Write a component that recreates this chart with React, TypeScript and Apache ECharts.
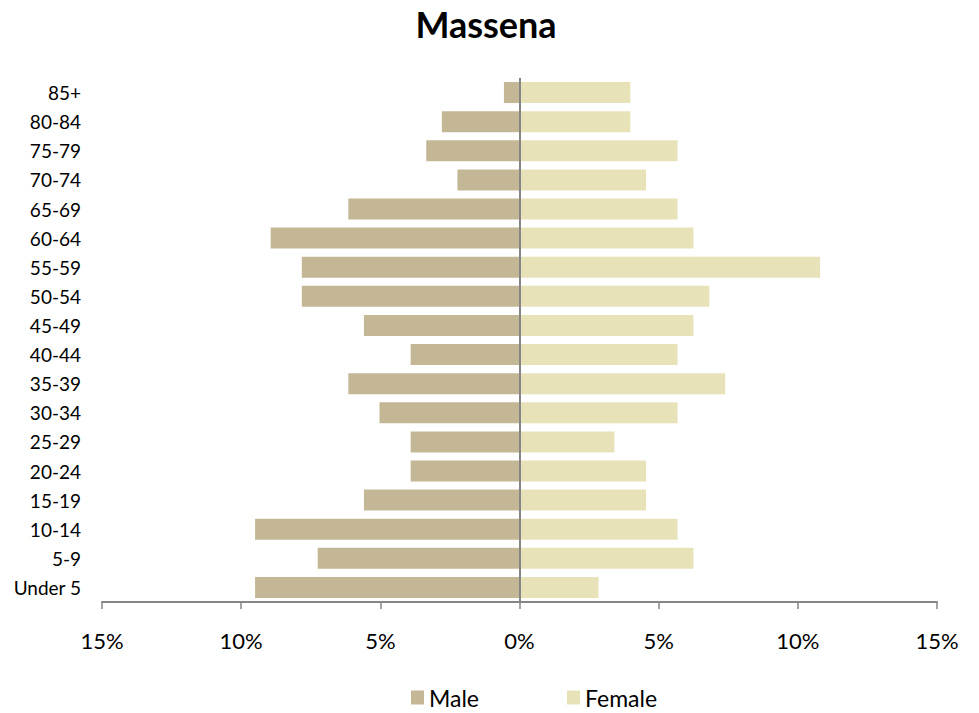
import React, { useEffect, useRef } from "react";
import * as echarts from "echarts";

const categories = [
  "Under 5", "5-9", "10-14", "15-19", "20-24", "25-29", "30-34", "35-39", "40-44",
  "45-49", "50-54", "55-59", "60-64", "65-69", "70-74", "75-79", "80-84", "85+",
];
// percent of population (male shown to the left)
const malePct = [9.5, 7.25, 9.5, 5.59, 3.91, 3.91, 5.03, 6.15, 3.91, 5.59, 7.82, 7.82, 8.94, 6.15, 2.23, 3.35, 2.79, 0.56];
const femalePct = [2.84, 6.25, 5.68, 4.55, 4.55, 3.41, 5.68, 7.39, 5.68, 6.25, 6.82, 10.8, 6.25, 5.68, 4.55, 5.68, 3.98, 3.98];
const seriesNames = ["Male", "Female"];
const titleText = "Massena";

const FONT = "Lato, 'Noto Sans', sans-serif";

export default function App() {
  const ref = useRef<HTMLDivElement>(null);
  useEffect(() => {
    if (!ref.current) return;
    const chart = echarts.init(ref.current, null, { renderer: "svg" });
    chart.setOption({
      animation: false,
      backgroundColor: "#ffffff",
      title: {
        text: titleText,
        left: 481,
        textAlign: "center",
        top: 1,
        textStyle: { fontFamily: FONT, fontSize: 36, fontWeight: "bold", color: "#000" },
      },
      legend: {
        data: seriesNames,
        left: 406,
        top: 681,
        itemWidth: 13,
        itemHeight: 14,
        itemGap: 88,
        icon: "rect",
        textStyle: { fontFamily: FONT, fontSize: 23, color: "#000" },
      },
      grid: { left: 102, right: 42, top: 78, bottom: 111, containLabel: false },
      xAxis: {
        type: "value",
        min: -15,
        max: 15,
        interval: 5,
        axisLine: { show: true, lineStyle: { color: "#868686", width: 2 } },
        axisTick: { show: true, length: 7, lineStyle: { color: "#868686", width: 1.5 } },
        splitLine: { show: false },
        axisLabel: {
          margin: 27,
          fontFamily: FONT,
          fontSize: 22,
          color: "#000",
          formatter: (v: number) => `${Math.abs(v)}%`,
        },
      },
      yAxis: {
        type: "category",
        data: categories,
        axisLine: { show: false, onZero: false },
        axisTick: { show: false },
        axisLabel: { margin: 21, fontFamily: FONT, fontSize: 19, color: "#000" },
      },
      series: [
        {
          name: seriesNames[0],
          type: "bar",
          data: malePct.map((v) => -v),
          barWidth: 21,
          barGap: "-100%",
          itemStyle: { color: "#C4B796" },
          markLine: {
            silent: true,
            symbol: "none",
            label: { show: false },
            lineStyle: { color: "#868686", width: 2, type: "solid" },
            data: [{ xAxis: 0 }],
          },
        },
        {
          name: seriesNames[1],
          type: "bar",
          data: femalePct,
          barWidth: 21,
          barGap: "-100%",
          itemStyle: { color: "#E8E2B8" },
        },
      ],
    });
    return () => chart.dispose();
  }, []);
  return (
    <div
      ref={ref}
      style={{ position: "fixed", left: 0, top: 0, width: 979, height: 713, background: "#fff" }}
    />
  );
}
